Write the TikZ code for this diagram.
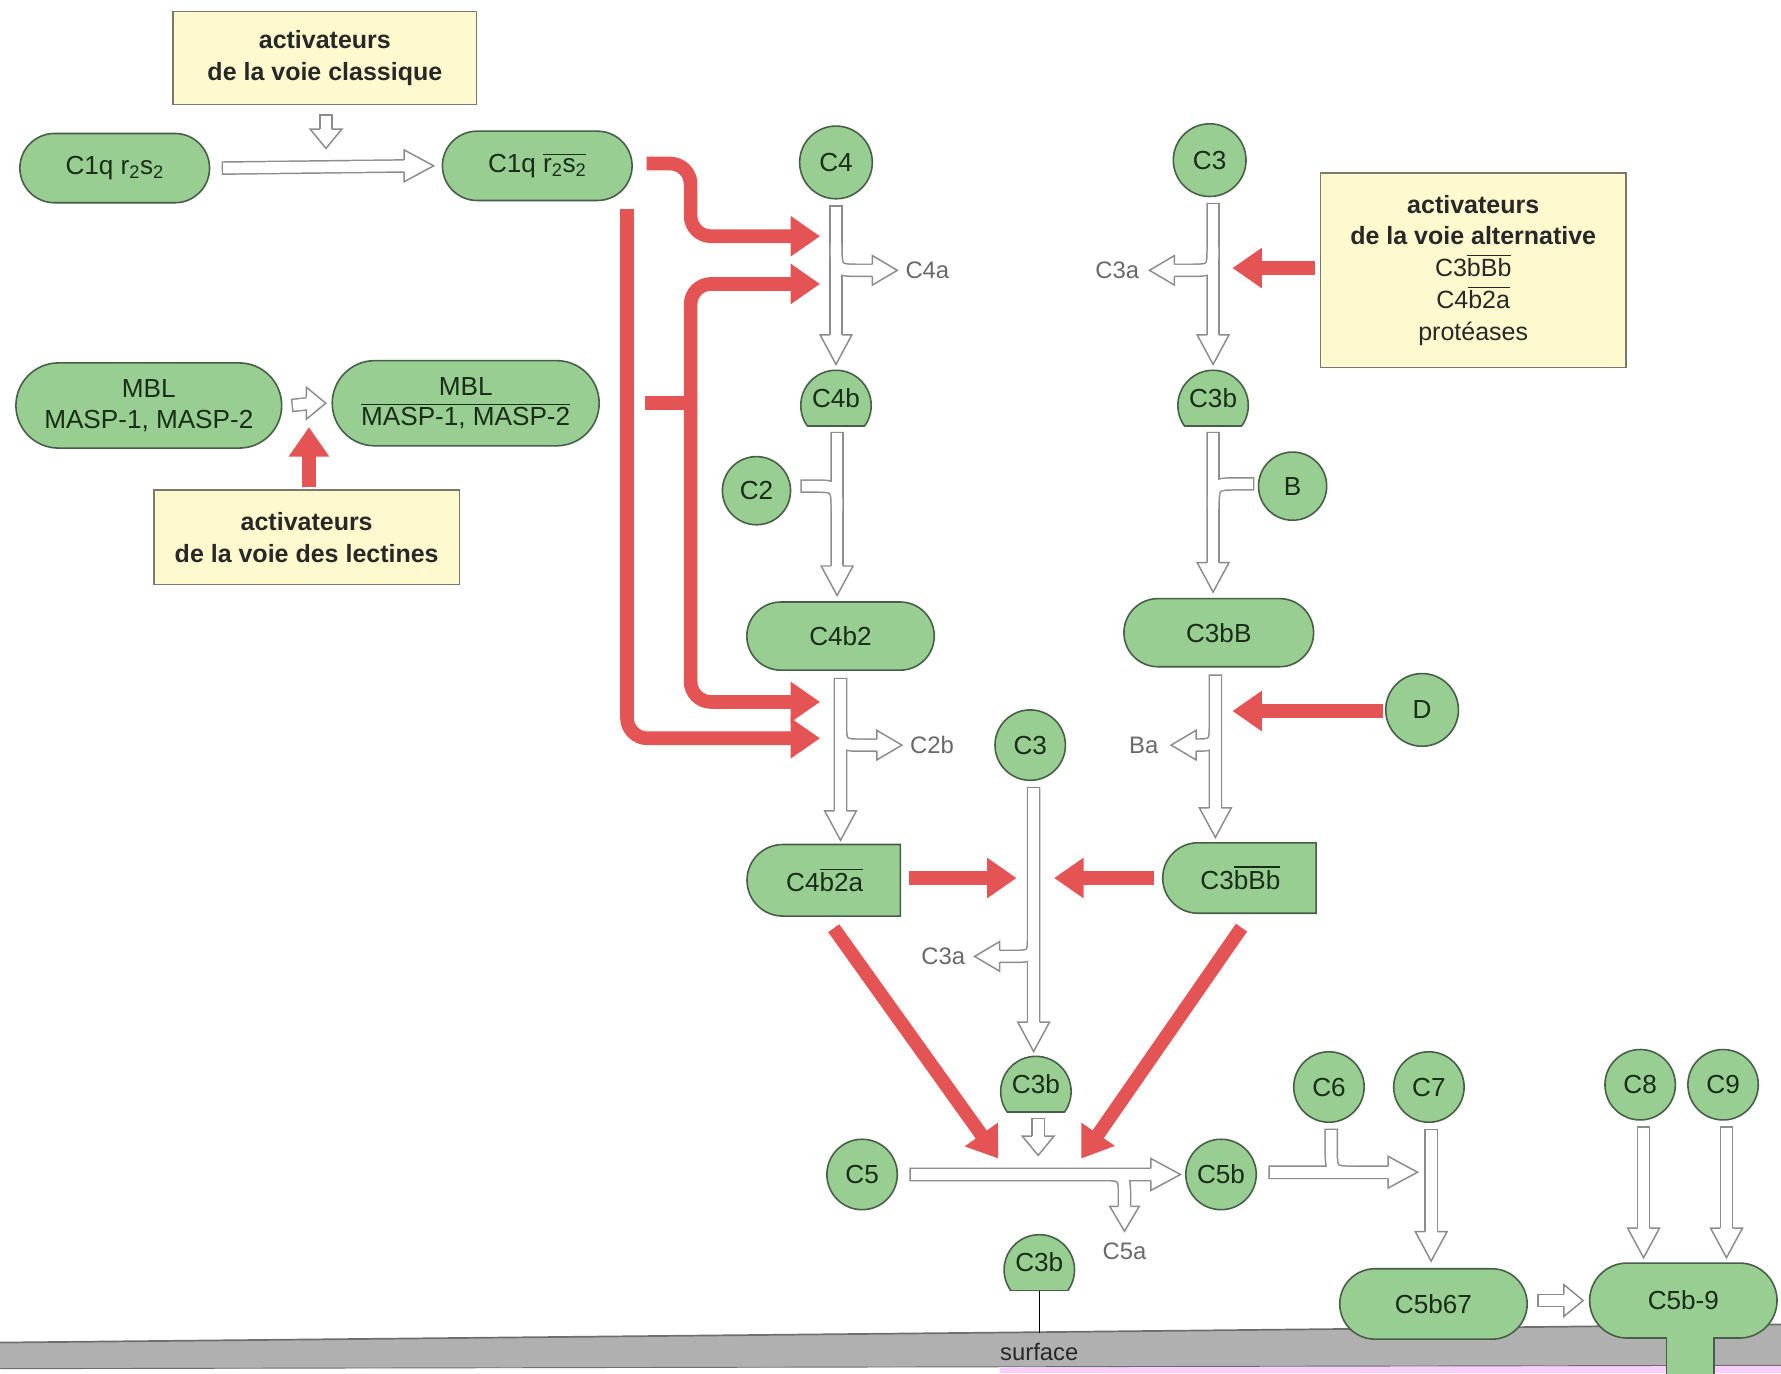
\documentclass[tikz,border=0pt]{standalone}
\usepackage{fontspec}
\setmainfont{Liberation Sans}
\usetikzlibrary{arrows.meta,shapes.misc,calc}

\definecolor{gfill}{RGB}{152,206,145}
\definecolor{gdraw}{RGB}{70,95,70}
\definecolor{gtext}{RGB}{25,45,25}
\definecolor{yfill}{RGB}{254,250,206}
\definecolor{ydraw}{RGB}{120,120,110}
\definecolor{ytext}{RGB}{40,40,40}
\definecolor{rred}{RGB}{228,84,84}
\definecolor{hgray}{RGB}{140,140,140}
\definecolor{tgray}{RGB}{105,105,105}
\definecolor{sgray}{RGB}{176,176,176}
\definecolor{sedge}{RGB}{110,110,110}
\definecolor{spink}{RGB}{250,205,250}

\newcommand\lab{\fontsize{23}{27}\selectfont}
\newcommand\ylab{\fontsize{22}{28}\selectfont}
\newcommand\glab{\fontsize{21}{24}\selectfont}
\newcommand\ovl[1]{\leavevmode\vbox{\hrule height 1pt\kern 2.5pt\hbox{#1}}}
\newcommand\hol[1]{\draw[hout] #1; \draw[hin] #1;}
\newcommand\holb[2]{\draw[hout] #1 #2; \draw[hin] #1; \draw[hin] #2;}
\newcommand\mush[4]{%
  \begin{scope}
    \clip (#2-40,#3-45) rectangle (#2+40,#3+18);
    \filldraw[gshape] (#2,#3) circle[radius=31pt];
  \end{scope}
  \draw[gdraw,line width=1.4pt,line cap=round] (#2-25.1,#3+18) -- (#2+25.1,#3+18);
  \node[minimum width=62pt,minimum height=49pt,inner sep=0pt,font=\lab,text=gtext] (#1) at (#2,#3-6.5) {#4};}

\tikzset{
  gcirc/.style={circle,draw=gdraw,fill=gfill,line width=1.4pt,inner sep=0pt,font=\lab,text=gtext},
  gpill/.style={rounded rectangle,draw=gdraw,fill=gfill,line width=1.4pt,inner sep=0pt,font=\lab,text=gtext,align=center},
  ybox/.style={rectangle,draw=ydraw,fill=yfill,line width=1.3pt,inner sep=0pt,font=\ylab,align=center,text=ytext},
  gshape/.style={draw=gdraw,fill=gfill,line width=1.4pt},
  hout/.style={draw=hgray,line width=12pt,line cap=butt,line join=round},
  hin/.style={draw=white,line width=9.4pt,line cap=butt,line join=round,shorten <=1.3pt},
  redarr/.style={draw=rred,line width=12pt,-{Triangle[length=26pt,width=34pt]},rounded corners=18pt},
  redarrb/.style={draw=rred,line width=12pt,{Triangle[length=26pt,width=34pt]}-{Triangle[length=26pt,width=34pt]},rounded corners=18pt},
  glabel/.style={font=\glab,text=tgray,inner sep=0pt},
  hhead/.pic={\filldraw[fill=white,draw=hgray,line width=1.3pt,line join=miter] (-26,-5.35) -- (-26,-14) -- (0,0) -- (-26,14) -- (-26,5.35);},
  hheadb/.pic={\filldraw[fill=white,draw=hgray,line width=1.3pt,line join=miter] (-22,-5.35) -- (-22,-13) -- (0,0) -- (-22,13) -- (-22,5.35);},
  hheads/.pic={\filldraw[fill=white,draw=hgray,line width=1.3pt,line join=miter] (-17,-5.35) -- (-17,-14) -- (0,0) -- (-17,14) -- (-17,5.35);}
}

\begin{document}
\begin{tikzpicture}[x=1pt,y=-1pt]
\useasboundingbox (0,0) rectangle (1568,1209);
\fill[white] (0,0) rectangle (1568,1209);

% surface
\fill[sgray] (0,1182) -- (900,1173) -- (1568,1166) -- (1568,1202) -- (0,1205) -- cycle;
\fill[spink] (880,1204) -- (1568,1202) -- (1568,1209) -- (880,1209) -- cycle;
\draw[sedge,line width=1.5pt] (0,1182) -- (900,1173) -- (1568,1166);
\draw[sedge,line width=0.8pt] (0,1205) -- (1568,1202);
\node[font=\glab,text=ytext] (surflab) at (915,1190) {surface};
\coordinate (surf) at (915,1174);

% yellow boxes
\node[ybox,minimum width=267pt,minimum height=82pt] (act1) at (286,51) {\textbf{activateurs}\\\textbf{de la voie classique}};
\node[ybox,minimum width=269pt,minimum height=171pt] (act2) at (1297,238) {\textbf{activateurs}\\\textbf{de la voie alternative}\\C3\ovl{bBb}\\C4\ovl{b2a}\\protéases};
\node[ybox,minimum width=269pt,minimum height=83pt] (act3) at (270,473) {\textbf{activateurs}\\\textbf{de la voie des lectines}};

% green nodes
\node[gpill,minimum width=167pt,minimum height=61pt] (c1q) at (101,148) {C1q r\textsubscript{2}s\textsubscript{2}};
\node[gpill,minimum width=167pt,minimum height=61pt] (c1qa) at (473,146) {C1q \ovl{r\textsubscript{2}s\textsubscript{2}}};
\node[gpill,minimum width=234pt,minimum height=75pt] (mbl) at (131,357) {MBL\\MASP-1, MASP-2};
\node[gpill,minimum width=235pt,minimum height=75pt] (mbla) at (410,355) {MBL\\\ovl{MASP-1, MASP-2}};

\node[gcirc,minimum size=64pt] (c4) at (736,143) {C4};
\mush{c4b}{736}{357}{C4b}
\node[gcirc,minimum size=60pt] (c2) at (666,432) {C2};
\node[gpill,minimum width=165pt,minimum height=60pt] (c4b2) at (740,560) {C4b2};
\node[gpill,rounded rectangle right arc=none,minimum width=135pt,minimum height=63pt] (c4b2a) at (726,775) {C4\ovl{b2a}};

\node[gcirc,minimum size=64pt] (c3t) at (1065,141) {C3};
\mush{c3b1}{1068}{357}{C3b}
\node[gcirc,minimum size=60pt] (bf) at (1138,428) {B};
\node[gpill,minimum width=167pt,minimum height=60pt] (c3bB) at (1073,557) {C3bB};
\node[gcirc,minimum size=64pt] (d) at (1252,625) {D};
\node[gpill,rounded rectangle right arc=none,minimum width=135pt,minimum height=62pt] (c3bBb) at (1092,773) {C3\ovl{bBb}};

\node[gcirc,minimum size=62pt] (c3m) at (907,656) {C3};
\mush{c3b2}{912}{961}{C3b}
\node[gcirc,minimum size=62pt] (c5) at (759,1034) {C5};
\node[gcirc,minimum size=62pt] (c5b) at (1075,1034) {C5b};
\node[gcirc,minimum size=62pt] (c6) at (1170,957) {C6};
\node[gcirc,minimum size=62pt] (c7) at (1258,957) {C7};
\node[gcirc,minimum size=62pt] (c8) at (1444,955) {C8};
\node[gcirc,minimum size=62pt] (c9) at (1517,955) {C9};
\node[gpill,minimum width=165pt,minimum height=62pt] (c5b67) at (1262,1148) {C5b67};
\node[gpill,minimum width=165pt,minimum height=66pt] (c5b9) at (1482,1145) {C5b-9};
\fill[gfill] (1467.7,1170) rectangle (1508.3,1212);
\draw[gdraw,line width=1.4pt] (1467,1177.5) -- (1467,1212) (1509,1177.5) -- (1509,1212);
\mush{c3b3}{915}{1118}{C3b}
\draw[black,line width=1.4pt] (c3b3.south) -- (surf);

% junction coordinates
\coordinate (j1) at (722,208);
\coordinate (j2) at (722,250);
\coordinate (j3) at (722,618);
\coordinate (j4) at (722,650);
\coordinate (j5) at (1085,236);
\coordinate (j6) at (1085,626);
\coordinate (j7) at (895,773);
\coordinate (j8) at (928,773);
\coordinate (j9) at (879,1020);
\coordinate (j10) at (952,1020);
\coordinate (j11) at (272,376);
\coordinate (j12) at (1248,1032);

% hollow arrows
\hol{($(c1q.east)+(10,0)$) -- ($(c1qa.west)+(-24,0)$)}
\hol{($(act1.south)+(1,8)$) -- ($(act1.south)+(1,30)$)}
\hol{($(mbl.east)+(8,0)$) -- ($(mbla.west)+(-16,0)$)}
\holb{($(c4.south)+(0,5)$) -- ($(c4b.north)+(0,-20)$)}{(736,215) .. controls (736,238) .. (758,238) -- (772,238)}
\holb{($(c4b.south)+(1,5)$) -- ($(c4b2.north)+(-3,-20)$)}{($(c2.east)+(8,-4)$) -- (716,428) .. controls (737,428) .. (737,450)}
\holb{($(c4b2.south)+(0,6)$) -- ($(c4b2a.north)+(14,-20)$)}{(740,634) .. controls (740,656) .. (760,656) -- (776,656)}
\holb{($(c3t.south)+(3,5)$) -- ($(c3b1.north)+(0,-20)$)}{(1068,216) .. controls (1068,238) .. (1046,238) -- (1030,238)}
\holb{($(c3b1.south)+(0,5)$) -- ($(c3bB.north)+(-5,-20)$)}{($(bf.west)+(-3,-2)$) -- (1092,426) .. controls (1068,426) .. (1068,448)}
\holb{($(c3bB.south)+(-3,6)$) -- ($(c3bBb.north)+(-22,-20)$)}{(1070,634) .. controls (1070,656) .. (1050,656) -- (1048,656)}
\holb{($(c3m.south)+(3,5)$) -- ($(c3b2.north)+(-2,-20)$)}{(910,820) .. controls (910,842) .. (890,842) -- (878,842)}
\hol{($(c3b2.south)+(2,5)$) -- ($(c3b2.south)+(2,30)$)}
\holb{($(c5.east)+(10,0)$) -- ($(c5b.west)+(-20,0)$)}{(968,1034) .. controls (990,1034) .. (990,1056) -- (990,1066)}
\holb{($(c5b.east)+(10,-2)$) -- ($(j12)+(-16,0)$)}{($(c6.south)+(2,5)$) -- (1172,1010) .. controls (1172,1032) .. (1194,1032)}
\hol{($(c7.south)+(2,5)$) -- ($(c5b67.north)+(-2,-20)$)}
\hol{($(c5b67.east)+(8,-3)$) -- ($(c5b9.west)+(-14,0)$)}
\hol{($(c8.south)+(3,5)$) -- ($(c5b9.north)+(-35,-20)$)}
\hol{($(c9.south)+(3,5)$) -- ($(c5b9.north)+(38,-20)$)}

% heads
\pic at ($(c1qa.west)+(-7,0)$) {hhead};
\pic[rotate=-90] at ($(act1.south)+(1,38)$) {hheads};
\pic at ($(mbla.west)+(-5,0)$) {hheads};
\pic[rotate=-90] at ($(c4b.north)+(0,-5)$) {hhead};
\pic at (790,238) {hheadb};
\pic[rotate=-90] at ($(c4b2.north)+(-3,-5)$) {hhead};
\pic[rotate=-90] at ($(c4b2a.north)+(14,-3)$) {hhead};
\pic at (794,656) {hheadb};
\pic[rotate=-90] at ($(c3b1.north)+(0,-5)$) {hhead};
\pic[rotate=180] at (1012,238) {hheadb};
\pic[rotate=-90] at ($(c3bB.north)+(-5,-5)$) {hhead};
\pic[rotate=-90] at ($(c3bBb.north)+(-22,-4)$) {hhead};
\pic[rotate=180] at (1031,656) {hheadb};
\pic[rotate=-90] at ($(c3b2.north)+(-2,-4)$) {hhead};
\pic[rotate=180] at (858,842) {hheadb};
\pic[rotate=-90] at ($(c3b2.south)+(2,38)$) {hheads};
\pic at ($(c5b.west)+(-4,0)$) {hhead};
\pic[rotate=-90] at (990,1084) {hheadb};
\pic at (j12) {hhead};
\pic[rotate=-90] at ($(c5b67.north)+(-2,-6)$) {hhead};
\pic at ($(c5b9.west)+(-5,0)$) {hheads};
\pic[rotate=-90] at ($(c5b9.north)+(-35,-4)$) {hhead};
\pic[rotate=-90] at ($(c5b9.north)+(38,-4)$) {hhead};

% labels
\node[glabel,anchor=west] (l4a) at (797,238) {C4a};
\node[glabel,anchor=east] (l3a) at (1003,238) {C3a};
\node[glabel,anchor=west] (l2b) at (801,656) {C2b};
\node[glabel,anchor=east] (lba) at (1020,656) {Ba};
\node[glabel,anchor=east] (l3a2) at (850,842) {C3a};
\node[glabel] (l5a) at (990,1102) {C5a};

% red arrows
\draw[redarr] ($(c1qa.east)+(12,-2)$) -- (608,144) -- (608,208) -- (j1);
\draw[redarrb] (j2) -- (608,250) -- (608,618) -- (j3);
\draw[rred,line width=12pt] ($(mbla.east)+(40,0)$) -- (608,355);
\draw[redarr] ($(c1qa.south)+(79,7)$) -- (552,650) -- (j4);
\draw[redarr] ($(act2.west)+(-4,-2)$) -- (j5);
\draw[redarr] ($(d.west)+(-2,1)$) -- (j6);
\draw[redarr] ($(act3.north)+(2,-2)$) -- (j11);
\draw[redarr] ($(c4b2a.east)+(7,-2)$) -- (j7);
\draw[redarr] ($(c3bBb.west)+(-7,0)$) -- (j8);
\draw[redarr] ($(c4b2a.south)+(8,10)$) -- (j9);
\draw[redarr] ($(c3bBb.south)+(1,12)$) -- (j10);
\end{tikzpicture}
\end{document}
